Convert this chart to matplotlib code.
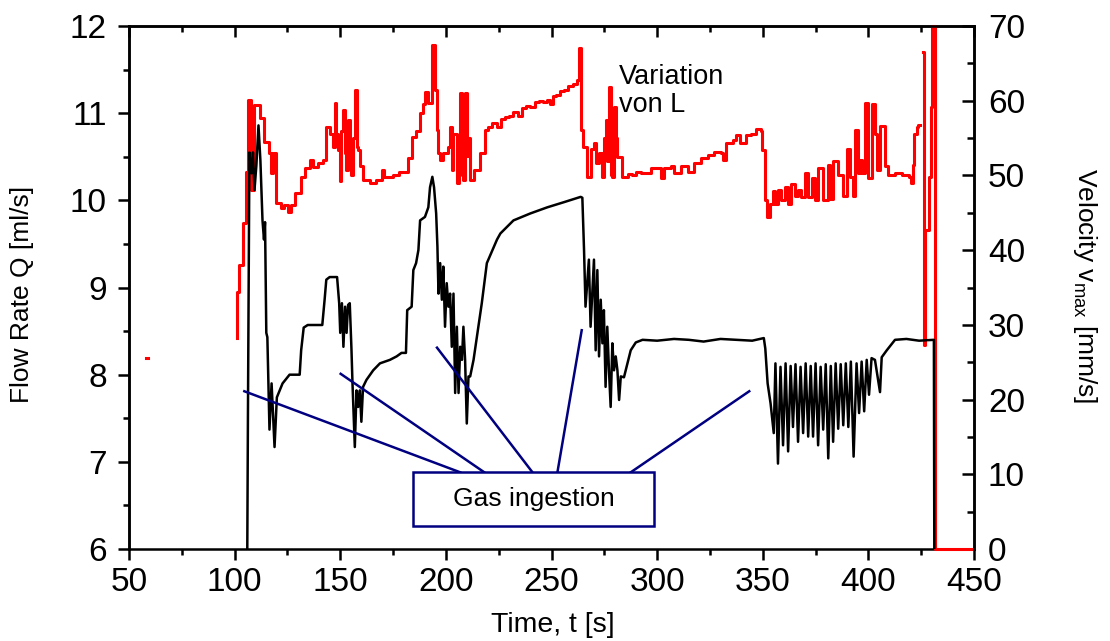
import numpy as np
import matplotlib
matplotlib.use("Agg")
from matplotlib import pyplot as plt
from matplotlib.patches import Rectangle
from matplotlib.ticker import MultipleLocator

plt.rcParams["font.family"] = ["Liberation Sans", "DejaVu Sans"]
plt.rcParams["mathtext.fontset"] = "custom"
plt.rcParams["mathtext.rm"] = "Liberation Sans"

# flow rate Q (black, left axis)
flow_t = [106.0, 106.3, 107.0, 108.0, 108.7, 109.4, 110.3, 111.3, 112.2, 112.7, 113.2, 113.9,
          114.4, 114.6, 115.0, 115.5, 116.5, 117.5, 118.9, 120.0, 122.7, 126.0, 130.8, 131.5,
          132.7, 134.6, 141.5, 142.6, 143.4, 145.0, 148.5, 149.5, 150.0, 150.8, 151.5, 152.3,
          153.0, 153.7, 154.5, 155.3, 155.8, 156.9, 157.7, 158.5, 159.3, 160.0, 160.8, 162.4,
          165.6, 168.8, 173.5, 176.7, 179.0, 181.1, 181.7, 183.8, 184.6, 185.9, 187.0, 187.8,
          190.1, 191.7, 192.5, 193.6, 194.4, 195.4, 196.0, 196.5, 197.3, 198.1, 198.8, 199.6,
          200.4, 201.2, 202.0, 202.8, 203.6, 204.4, 205.2, 206.0, 206.8, 207.6, 208.3, 209.1,
          209.9, 210.7, 211.5, 213.1, 217.0, 219.4, 222.6, 224.2, 225.8, 232.0, 240.0, 248.0,
          256.0, 263.8, 264.6, 265.4, 266.1, 267.7, 268.5, 270.1, 270.9, 271.7, 272.5, 273.3,
          274.1, 274.8, 275.6, 276.4, 277.2, 278.0, 278.8, 279.6, 280.4, 281.2, 282.0, 282.8,
          284.3, 287.5, 289.9, 293.1, 300.0, 308.0, 315.0, 322.0, 330.0, 338.0, 345.0, 350.5,
          351.2, 352.3, 353.7, 355.2, 356.0, 357.2, 358.4, 359.6, 360.8, 362.0, 363.2, 364.3,
          365.5, 366.7, 367.9, 369.1, 370.3, 371.5, 372.7, 373.8, 375.0, 376.2, 377.4, 378.6,
          379.8, 381.0, 382.2, 383.3, 384.5, 385.7, 386.9, 388.1, 389.3, 390.5, 391.7, 393.0,
          394.4, 395.6, 396.8, 398.0, 399.2, 400.3, 401.5, 403.1, 405.5, 406.3, 408.7, 412.6,
          418.0, 424.0, 431.0, 431.2]
flow_q = [6.0, 7.5, 10.55, 10.31, 10.55, 10.12, 10.4, 10.86, 10.46, 10.1, 9.77, 9.55,
          9.75, 9.3, 8.48, 8.43, 7.37, 7.9, 7.17, 7.74, 7.9, 8.0, 8.0, 8.28,
          8.54, 8.57, 8.57, 8.86, 9.09, 9.12, 9.12, 8.82, 8.48, 8.82, 8.32, 8.78,
          8.48, 8.8, 8.82, 8.3, 7.9, 7.17, 7.82, 7.63, 7.82, 7.46, 7.86, 7.94,
          8.05, 8.13, 8.17, 8.21, 8.25, 8.25, 8.74, 8.78, 9.2, 9.28, 9.43, 9.77,
          9.81, 9.92, 10.15, 10.27, 10.15, 9.85, 9.47, 8.93, 9.28, 8.86, 9.24, 8.55,
          9.05, 8.78, 8.93, 8.32, 8.93, 7.79, 8.55, 7.79, 8.32, 8.17, 8.55, 8.17,
          7.44, 7.98, 7.98, 8.17, 8.82, 9.28, 9.46, 9.55, 9.62, 9.77, 9.85, 9.92,
          9.98, 10.04, 10.03, 9.43, 8.78, 9.32, 8.55, 9.32, 8.28, 9.2, 8.21, 8.86,
          8.36, 8.74, 7.86, 8.55, 8.05, 7.63, 8.36, 8.05, 8.21, 8.05, 7.71, 7.98,
          7.97, 8.28, 8.37, 8.40, 8.39, 8.41, 8.40, 8.38, 8.41, 8.40, 8.39, 8.42,
          8.3, 7.9, 7.67, 7.33, 8.13, 6.98, 8.09, 7.19, 8.13, 7.12, 8.1, 7.40,
          8.12, 7.23, 8.09, 7.33, 8.13, 7.29, 8.1, 7.29, 8.13, 7.19, 8.09, 7.37,
          8.12, 7.04, 8.1, 7.23, 8.13, 7.38, 8.12, 7.42, 8.13, 7.40, 8.15, 7.06,
          8.13, 7.56, 8.15, 7.58, 8.17, 7.77, 8.19, 8.17, 7.80, 8.2, 8.28, 8.40,
          8.41, 8.39, 8.40, 6.0]

# velocity v_max (red, right axis); nan marks a gap
vel_t = [58.2, 59.0, np.nan,
         101.2, 101.2, 102.3, 102.3, 103.5, 104.2, 104.2, 105.4, 106.5, 107.8, 108.9, 109.4,
         111.4, 112.1, 113.3, 114.1, 116.5, 117.3, 118.1, 119.2, 119.7, 122.1, 123.6, 125.2,
         126.8, 128.4, 131.6, 133.1, 135.5, 137.1, 139.4, 141.8, 143.4, 145.0, 146.6, 147.4,
         148.2, 149.0, 149.8, 150.5, 151.3, 152.1, 152.9, 153.7, 154.5, 155.3, 156.1, 156.9,
         157.7, 158.5, 159.3, 160.8, 164.0, 167.0, 169.0, 170.0, 170.8, 175.0, 178.0, 180.0,
         182.0, 184.0, 186.0, 187.7, 189.0, 190.0, 191.5, 193.0, 193.6, 194.6, 195.0, 195.7,
         196.5, 197.3, 198.8, 200.4, 201.2, 202.0, 202.8, 203.6, 205.2, 206.0, 206.8, 207.5,
         208.3, 209.1, 209.9, 210.7, 211.5, 213.1, 214.7, 216.3, 218.6, 220.0, 222.0, 224.0,
         226.0, 228.0, 230.0, 232.0, 234.0, 236.0, 238.0, 240.0, 242.0, 244.0, 246.0, 248.0,
         249.5, 250.5, 252.0, 254.0, 256.0, 258.0, 260.0, 262.3, 263.0, 263.6, 264.0, 265.0,
         266.1, 266.9, 268.5, 270.1, 270.9, 271.7, 272.5, 273.3, 274.1, 274.8, 275.6, 276.4,
         277.2, 278.0, 278.8, 279.6, 280.4, 281.2, 282.8, 283.6, 284.3, 286.0, 288.0, 290.0,
         292.3, 297.1, 301.8, 303.4, 306.6, 308.1, 311.3, 314.5, 317.6, 320.8, 324.0, 327.1,
         330.3, 331.1, 332.7, 335.8, 337.4, 339.0, 342.2, 344.5, 346.9, 349.3, 349.6, 350.9,
         351.2, 352.2, 353.3, 354.9, 355.6, 357.2, 358.8, 360.4, 362.0, 363.6, 365.1, 366.7,
         368.3, 369.9, 371.5, 373.1, 374.6, 376.2, 378.6, 381.0, 381.8, 383.4, 385.7, 388.1,
         389.7, 391.3, 392.9, 393.6, 395.2, 396.0, 396.8, 398.4, 400.0, 401.6, 403.1, 403.9,
         405.5, 406.3, 407.9, 409.5, 412.6, 415.8, 419.0, 420.1, 420.9, 421.8, 422.9, 423.7,
         424.5, np.nan,
         425.9, 426.2, 426.8, 427.6, 428.8, 429.5, 430.2, 430.9, 431.4, 431.6, 450.0]
vel_v = [25.6, 25.6, np.nan,
         28.2, 34.4, 34.4, 38.0, 38.0, 38.0, 43.6, 50.5, 60.1, 48.0, 48.0, 59.4,
         59.4, 57.7, 57.7, 54.5, 53.0, 50.3, 53.0, 53.0, 46.3, 45.6, 46.0, 45.1,
         46.0, 47.6, 49.8, 51.0, 52.1, 51.1, 51.6, 52.1, 56.5, 55.6, 53.8, 59.7,
         55.6, 53.4, 49.2, 56.0, 58.8, 53.0, 50.7, 57.4, 52.0, 50.1, 55.0, 61.4,
         53.8, 53.4, 51.2, 49.4, 49.0, 49.4, 49.4, 50.7, 49.8, 50.1, 50.5, 50.5,
         52.3, 55.1, 56.0, 58.3, 59.5, 61.2, 59.7, 59.7, 67.5, 67.5, 61.4, 56.1,
         53.0, 52.1, 53.0, 53.0, 53.8, 56.5, 50.7, 55.6, 49.0, 55.0, 61.1, 50.0,
         49.4, 61.1, 52.6, 55.0, 49.4, 50.7, 50.7, 53.0, 56.1, 56.5, 57.0, 56.5,
         57.5, 57.8, 58.0, 58.5, 58.0, 59.0, 59.3, 59.2, 59.8, 60.0, 59.8, 60.1,
         59.5, 60.7, 60.8, 61.3, 61.4, 62.0, 62.3, 62.8, 67.0, 67.0, 56.1, 53.8,
         53.8, 49.8, 53.5, 54.3, 51.6, 51.6, 53.0, 53.0, 49.8, 55.0, 57.4, 52.0,
         61.9, 50.0, 49.8, 59.2, 55.0, 52.5, 52.5, 49.8, 49.8, 50.2, 50.0, 50.5,
         50.3, 51.0, 49.6, 51.0, 51.2, 50.3, 51.2, 50.5, 51.6, 52.3, 52.8, 53.2,
         53.0, 52.1, 54.3, 54.7, 55.4, 54.3, 55.4, 55.6, 56.2, 55.9, 53.4, 53.4,
         46.7, 44.5, 46.2, 47.9, 46.2, 48.0, 46.7, 48.5, 46.2, 48.8, 47.3, 48.1,
         47.1, 50.3, 47.1, 49.6, 46.7, 51.0, 46.7, 51.4, 46.9, 51.9, 50.1, 47.3,
         53.6, 49.8, 47.3, 56.1, 50.3, 52.1, 50.3, 59.7, 49.6, 59.5, 55.6, 50.7,
         56.6, 56.6, 51.2, 50.1, 50.3, 50.1, 49.8, 49.0, 51.4, 55.6, 56.5, 56.7,
         56.7, np.nan,
         66.5, 27.3, 42.7, 42.7, 49.8, 59.2, 70.0, 70.0, 58.3, 0.0, 0.0]

# "Gas ingestion" pointer lines: (x_from, y_from) -> (x_to, y_to), left-axis units
pointer_from = [(104.6, 7.81), (150.2, 8.01), (195.8, 8.31), (264.3, 8.51), (343.6, 7.81)]
pointer_to = [(206.8, 6.88), (218.2, 6.88), (241.0, 6.88), (252.8, 6.88), (287.5, 6.88)]
box_x = (184.4, 298.5)
box_y = (6.26, 6.88)

navy = "#000080"

fig = plt.figure(figsize=(11.1, 6.41), dpi=100)
ax = fig.add_axes([0.1162, 0.1435, 0.7613, 0.8159])
ax2 = ax.twinx()

ax.plot(flow_t, flow_q, color="black", lw=1.8, zorder=3)
ax2.plot(vel_t, vel_v, color="red", lw=2.2, drawstyle="steps-post", zorder=3,
         clip_on=False)

for (x0, y0), (x1, y1) in zip(pointer_from, pointer_to):
    ax.plot([x0, x1], [y0, y1], color=navy, lw=1.8, zorder=4)
ax.add_patch(Rectangle((box_x[0], box_y[0]), box_x[1] - box_x[0], box_y[1] - box_y[0],
                       facecolor="white", edgecolor=navy, lw=1.8, zorder=5))
ax.text((box_x[0] + box_x[1]) / 2, (box_y[0] + box_y[1]) / 2, "Gas ingestion",
        ha="center", va="center", fontsize=19, zorder=6)
ax.text(281.8, 11.56, "Variation\nvon L", ha="left", va="top", fontsize=19.5,
        linespacing=1.1, zorder=6)

ax.set_xlim(50, 450)
ax.set_ylim(6, 12)
ax2.set_ylim(0, 70)
ax.set_zorder(ax2.get_zorder() + 1)
ax.patch.set_visible(False)

ax.xaxis.set_major_locator(MultipleLocator(50))
ax.xaxis.set_minor_locator(MultipleLocator(25))
ax.yaxis.set_major_locator(MultipleLocator(1))
ax.yaxis.set_minor_locator(MultipleLocator(0.5))
ax2.yaxis.set_major_locator(MultipleLocator(10))
ax2.yaxis.set_minor_locator(MultipleLocator(5))

for a in (ax, ax2):
    for s in a.spines.values():
        s.set_linewidth(1.8)
# bottom spine comes from ax2 so the red zero line can sit on it
ax.spines["bottom"].set_visible(False)

ax.tick_params(axis="x", which="both", direction="out", top=True, width=1.8,
               labelsize=24, pad=5)
ax.tick_params(axis="x", which="major", length=8)
ax.tick_params(axis="x", which="minor", length=4)
ax.tick_params(axis="y", which="both", direction="out", width=1.8, labelsize=24, pad=8)
ax.tick_params(axis="y", which="major", length=8)
ax.tick_params(axis="y", which="minor", length=4)
ax2.tick_params(axis="y", which="both", direction="in", width=1.8, labelsize=24, pad=10)
ax2.tick_params(axis="y", which="major", length=9)
ax2.tick_params(axis="y", which="minor", length=5)

# top ticks point inward
for t in ax.xaxis.get_major_ticks() + ax.xaxis.get_minor_ticks():
    t.tick2line.set_marker(matplotlib.lines.TICKDOWN)

ax.set_xlabel("Time, t [s]", fontsize=20.5)
ax.set_ylabel("Flow Rate Q [ml/s]", fontsize=19)
ax2.set_ylabel(r"Velocity v$_\mathrm{max}$ [mm/s]", fontsize=19, rotation=270)
ax.xaxis.set_label_coords(0.502, -0.145)
ax.xaxis.label.set_va("center")
ax.yaxis.set_label_coords(-0.1266, 0.486)
ax.yaxis.label.set_va("center")
ax2.yaxis.set_label_coords(1.131, 0.504)
ax2.yaxis.label.set_va("center")

fig.savefig("out.png", dpi=100)
